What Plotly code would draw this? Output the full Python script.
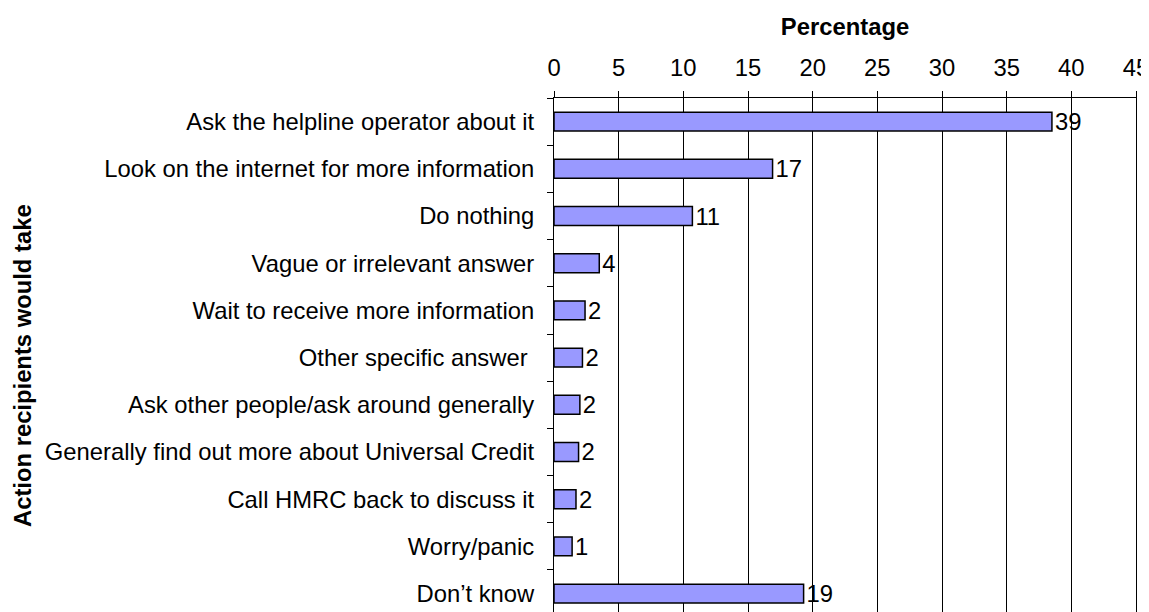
import plotly.graph_objects as go

categories = [
    "Ask the helpline operator about it",
    "Look on the internet for more information",
    "Do nothing",
    "Vague or irrelevant answer",
    "Wait to receive more information",
    "Other specific answer ",
    "Ask other people/ask around generally",
    "Generally find out more about Universal Credit",
    "Call HMRC back to discuss it",
    "Worry/panic",
    "Don\u2019t know",
]
values = [38.5, 16.9, 10.7, 3.5, 2.4, 2.2, 2.0, 1.9, 1.7, 1.4, 19.3]
value_labels = ["39", "17", "11", "4", "2", "2", "2", "2", "2", "1", "19"]
x_ticks = [0, 5, 10, 15, 20, 25, 30, 35, 40, 45]

FONT = "Liberation Sans, Arial, sans-serif"
FS = 23.8

fig = go.Figure(
    go.Bar(
        x=values,
        y=categories,
        orientation="h",
        marker=dict(color="#9999FF", line=dict(color="black", width=1.5)),
        width=0.4,
        text=value_labels,
        textposition="outside",
        constraintext="none",
        textfont=dict(family=FONT, size=FS, color="black"),
        cliponaxis=False,
    )
)

fig.update_layout(
    width=1141,
    height=604,
    margin=dict(l=546, r=13, t=90, b=0),
    paper_bgcolor="white",
    plot_bgcolor="white",
    font=dict(family=FONT, size=FS, color="black"),
    showlegend=False,
    annotations=[
        dict(
            text="<b>Action recipients would take</b>",
            textangle=-90,
            xref="paper",
            yref="paper",
            x=(23 - 554) / 582,
            y=(612 - 366) / 514,
            xanchor="center",
            yanchor="middle",
            showarrow=False,
            font=dict(family=FONT, size=FS, color="black"),
        )
    ],
)

fig.update_xaxes(
    side="top",
    range=[0, 45],
    tickvals=x_ticks,
    ticktext=[str(t) for t in x_ticks],
    ticks="outside",
    ticklen=6,
    tickcolor="black",
    ticklabelstandoff=5,
    ticklabeloverflow="allow",
    showline=True,
    linecolor="black",
    linewidth=1,
    showgrid=True,
    gridcolor="black",
    gridwidth=1,
    zeroline=False,
    tickfont=dict(family=FONT, size=FS, color="black"),
    title=dict(text="<b>Percentage</b>", font=dict(family=FONT, size=FS, color="black"), standoff=12),
)

fig.update_yaxes(
    categoryorder="array",
    categoryarray=categories,
    range=[10.39, -0.5],
    showline=True,
    mirror=True,
    linecolor="black",
    linewidth=1,
    ticks="outside",
    tickson="boundaries",
    ticklen=6,
    tickcolor="black",
    showgrid=False,
    zeroline=False,
    ticklabelstandoff=14,
    tickfont=dict(family=FONT, size=FS, color="black"),
)

fig.write_html("out.html")
